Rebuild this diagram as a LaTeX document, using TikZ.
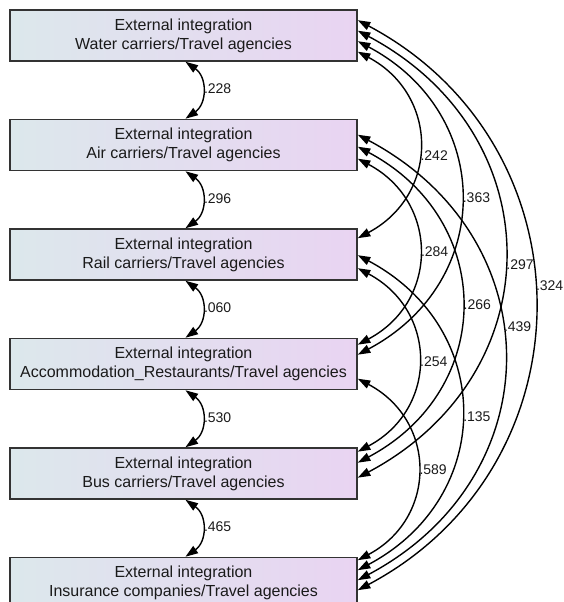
\documentclass[tikz,border=0pt]{standalone}
\usepackage{fontspec}
\setmainfont{Liberation Sans}
\usetikzlibrary{arrows.meta,calc}
\definecolor{boxleft}{HTML}{DCE8EC}
\definecolor{boxright}{HTML}{E9D4F2}
\definecolor{boxline}{HTML}{333333}
\definecolor{inktext}{HTML}{1A1A1A}
\begin{document}
\begin{tikzpicture}[x=1pt,y=1pt,
  varbox/.style={draw=boxline, line width=1.6pt, left color=boxleft, right color=boxright,
    minimum width=347pt, minimum height=51pt, align=center, inner sep=0pt,
    font=\fontsize{16}{19}\selectfont, text=inktext},
  cov/.style={line width=1.4pt, {Triangle[length=12.5pt,width=8.5pt]}-{Triangle[length=12.5pt,width=8.5pt]}},
  rarc/.style={cov, bend left=62, looseness=1.27},
  larc/.style={cov, bend left=55, looseness=1.2},
  est/.style={font=\fontsize{14}{16}\selectfont, anchor=west, inner sep=1.5pt, text=inktext}
]
\useasboundingbox (0,0) rectangle (564,602);

\node[varbox] (b1) at (183.5,566.5) {External integration\\Water carriers/Travel agencies};
\node[varbox] (b2) at (183.5,457) {External integration\\Air carriers/Travel agencies};
\node[varbox] (b3) at (183.5,347.5) {External integration\\Rail carriers/Travel agencies};
\node[varbox] (b4) at (183.5,238) {External integration\\Accommodation\_Restaurants/Travel agencies};
\node[varbox] (b5) at (183.5,128.5) {External integration\\Bus carriers/Travel agencies};
\node[varbox] (b6) at (183.5,19) {External integration\\Insurance companies/Travel agencies};

% left connection points
\foreach \i in {1,...,6}{
  \coordinate (s\i) at ($(b\i.south)+(2,0)$);
  \coordinate (n\i) at ($(b\i.north)+(2,0)$);
}

% right connection points
\coordinate (r16) at ($(b1.north east)+(0,-11)$);
\coordinate (r15) at ($(b1.north east)+(0,-21.5)$);
\coordinate (r14) at ($(b1.north east)+(0,-32)$);
\coordinate (r13) at ($(b1.north east)+(0,-42.5)$);
\coordinate (r26) at ($(b2.north east)+(0,-16)$);
\coordinate (r25) at ($(b2.north east)+(0,-28)$);
\coordinate (r24) at ($(b2.north east)+(0,-40)$);
\coordinate (r31) at ($(b3.north east)+(0,-10)$);
\coordinate (r36) at ($(b3.north east)+(0,-27)$);
\coordinate (r35) at ($(b3.north east)+(0,-40)$);
\coordinate (r42) at ($(b4.north east)+(0,-7)$);
\coordinate (r41) at ($(b4.north east)+(0,-17)$);
\coordinate (r46) at ($(b4.north east)+(0,-41)$);
\coordinate (r53) at ($(b5.north east)+(0,-4.5)$);
\coordinate (r52) at ($(b5.north east)+(0,-15.5)$);
\coordinate (r51) at ($(b5.north east)+(0,-30.5)$);
\coordinate (r64) at ($(b6.north east)+(0,-3.5)$);
\coordinate (r63) at ($(b6.north east)+(0,-13.5)$);
\coordinate (r62) at ($(b6.north east)+(0,-23.5)$);
\coordinate (r61) at ($(b6.north east)+(0,-33.5)$);

% adjacent covariances (left)
\draw[larc] (s1) to node[est, pos=0.48] {.228} (n2);
\draw[larc] (s2) to node[est, pos=0.48] {.296} (n3);
\draw[larc] (s3) to node[est, pos=0.48] {.060} (n4);
\draw[larc] (s4) to node[est, pos=0.48] {.530} (n5);
\draw[larc] (s5) to node[est, pos=0.48] {.465} (n6);

% non-adjacent covariances (right)
\draw[rarc] (r13) to node[est, pos=0.55] {.242} (r31);
\draw[rarc] (r14) to node[est, pos=0.5] {.363} (r41);
\draw[rarc] (r15) to node[est, pos=0.52] {.297} (r51);
\draw[rarc, looseness=1.2] (r16) to node[est, pos=0.47] {.324} (r61);
\draw[rarc] (r24) to node[est, pos=0.5] {.284} (r42);
\draw[rarc] (r25) to node[est, pos=0.5] {.266} (r52);
\draw[rarc] (r26) to node[est, pos=0.44] {.439} (r62);
\draw[rarc] (r35) to node[est, pos=0.51] {.254} (r53);
\draw[rarc] (r36) to node[est, pos=0.51] {.135} (r63);
\draw[rarc] (r46) to node[est, pos=0.5] {.589} (r64);
\end{tikzpicture}
\end{document}
